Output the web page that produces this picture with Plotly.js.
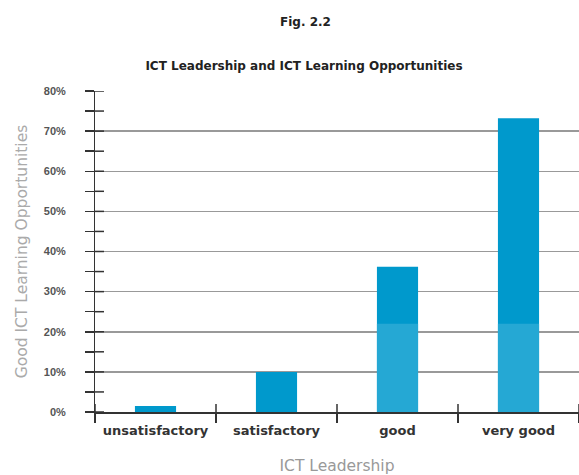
<!DOCTYPE html>
<html>
<head>
<meta charset="utf-8">
<script src="https://cdn.plot.ly/plotly-3.0.1.min.js"></script>
<style>html,body{margin:0;padding:0;background:#fff;}#chart{width:579px;height:475px;}</style>
</head>
<body>
<div id="chart"></div>
<script>
const categories = ["unsatisfactory", "satisfactory", "good", "very good"];
const totalValues = [1.5, 10, 36.2, 73.2];
const lowerValues = [0, 0, 22, 22];
const yTickVals = [0, 10, 20, 30, 40, 50, 60, 70, 80];
const yTickText = ["0%", "10%", "20%", "30%", "40%", "50%", "60%", "70%", "80%"];

const FONT = "DejaVu Sans, Liberation Sans, sans-serif";
const FONT2 = "Liberation Sans, Arial, sans-serif";
const PAD = "\u2003\u2002";

// inner halves of the crossing tick marks (axis decoration)
const yAllTicks = yTickVals.flatMap((v, i) =>
  i < yTickVals.length - 1 ? [v, (v + yTickVals[i + 1]) / 2] : [v]);
const xBoundaries = categories.map((c, i) => i - 0.5).concat([categories.length - 0.5]);
const tickLine = {color: "#333", width: 1.5};

const shapes = [
  ...yAllTicks.map(v => ({
    type: "line", xref: "paper", yref: "y", xsizemode: "pixel", xanchor: 0,
    x0: 0, x1: 9, y0: v, y1: v, line: tickLine, layer: "above"
  })),
  ...xBoundaries.map(b => ({
    type: "line", xref: "x", yref: "y", ysizemode: "pixel", yanchor: 0,
    x0: b, x1: b, y0: 0, y1: 8, line: tickLine, layer: "above"
  }))
];

const traces = [
  {
    type: "bar", x: categories, y: totalValues,
    marker: {color: "#0099CC"}, width: 0.34, hoverinfo: "skip", showlegend: false
  },
  {
    type: "bar", x: categories, y: lowerValues,
    marker: {color: "#25A8D4"}, width: 0.34, hoverinfo: "skip", showlegend: false
  }
];

const tickStyle = {tickwidth: 1.5, tickcolor: "#333"};

const layout = {
  width: 579, height: 475,
  margin: {l: 95, r: 0, t: 91, b: 63},
  paper_bgcolor: "#fff", plot_bgcolor: "#fff",
  barmode: "overlay",
  showlegend: false,
  font: {family: FONT, color: "#333"},
  title: {
    text: "ICT Leadership and ICT Learning Opportunities",
    font: {family: FONT, size: 12, color: "#222", weight: "bold"},
    x: 0.525, xref: "container", xanchor: "center",
    y: 1 - 66 / 475, yref: "container", yanchor: "middle"
  },
  annotations: [{
    text: "Fig. 2.2", xref: "paper", yref: "paper",
    x: (305 - 95) / 484, y: 1 + (91 - 22) / 321,
    xanchor: "center", yanchor: "middle", showarrow: false,
    font: {family: FONT, size: 12, color: "#222", weight: "bold"}
  }],
  shapes: shapes,
  xaxis: {
    type: "category", categoryorder: "array", categoryarray: categories,
    range: [-0.5, 3.5],
    tickson: "boundaries", ticks: "outside", ticklen: 9, ...tickStyle,
    showline: true, linecolor: "#333", linewidth: 1.5,
    showgrid: false, zeroline: false,
    ticklabelstandoff: 6,
    tickfont: {family: FONT, size: 13, color: "#333", weight: "bold"},
    title: {text: "ICT Leadership", font: {family: FONT, size: 15.5, color: "#999"}, standoff: 26}
  },
  yaxis: {
    range: [0, 80], tickvals: yTickVals, ticktext: yTickText.map(t => t + PAD),
    ticks: "outside", ticklen: 9, ...tickStyle,
    minor: {dtick: 5, ticks: "outside", ticklen: 9, tickwidth: 1.5, tickcolor: "#333", showgrid: false},
    showline: true, linecolor: "#333", linewidth: 1.5,
    showgrid: true, gridcolor: "#999", gridwidth: 1.5,
    zeroline: false,
    tickfont: {family: FONT2, size: 11, color: "#555", weight: "bold"},
    title: {text: "Good ICT Learning Opportunities", font: {family: FONT, size: 15.5, color: "#aaa"}, standoff: 12}
  }
};

Plotly.newPlot("chart", traces, layout, {staticPlot: true, displayModeBar: false});
</script>
</body>
</html>
